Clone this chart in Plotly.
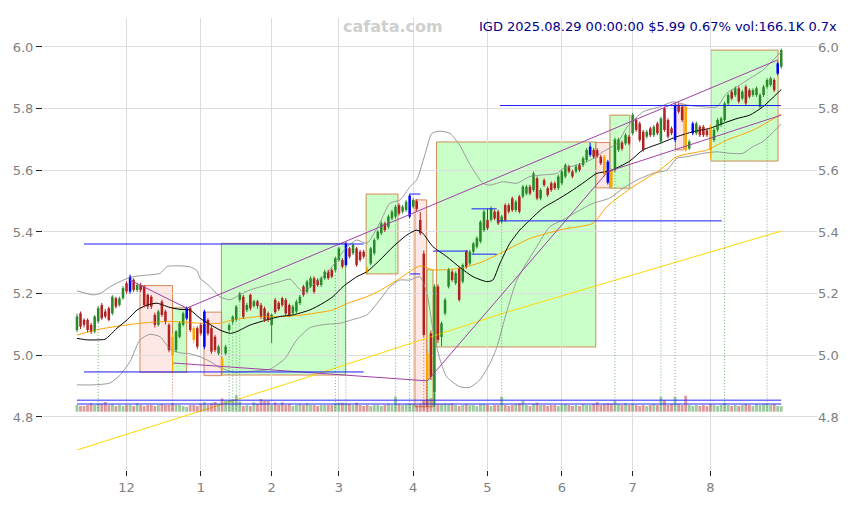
import plotly.graph_objects as go

# ---------------- data ----------------
opens = [
    5.082, 5.136, 5.115, 5.115, 5.099, 5.077, 5.110, 5.163, 5.142, 5.153,
    5.136, 5.185, 5.163, 5.185, 5.234, 5.207, 5.245, 5.212, 5.228, 5.223,
    5.196, 5.190, 5.131, 5.099, 5.174, 5.142, 5.099, 5.060, 5.017, 5.060,
    5.099, 5.120, 5.153, 5.088, 5.088, 5.099, 5.028, 5.115, 5.088, 5.060,
    5.006, 4.990, 5.006, 5.082, 5.109, 5.115, 5.180, 5.190, 5.147, 5.196,
    5.160, 5.175, 5.163, 5.152, 5.136, 5.098, 5.180, 5.170, 5.185, 5.180,
    5.163, 5.136, 5.142, 5.169, 5.223, 5.206, 5.223, 5.250, 5.244, 5.228,
    5.250, 5.271, 5.277, 5.277, 5.309, 5.309, 5.293, 5.347, 5.331, 5.347,
    5.336, 5.336, 5.282, 5.298, 5.331, 5.379, 5.396, 5.428, 5.417, 5.444,
    5.450, 5.487, 5.466, 5.471, 5.450, 5.482, 5.500, 5.439, 5.330, 5.006,
    5.071, 4.880, 5.223, 5.060, 5.136, 5.223, 5.271, 5.234, 5.282, 5.239,
    5.336, 5.298, 5.336, 5.352, 5.369, 5.406, 5.439, 5.439, 5.466, 5.466,
    5.434, 5.487, 5.487, 5.509, 5.471, 5.515, 5.515, 5.525, 5.547, 5.536,
    5.574, 5.509, 5.568, 5.542, 5.558, 5.558, 5.542, 5.558, 5.580, 5.612,
    5.596, 5.596, 5.617, 5.617, 5.633, 5.650, 5.666, 5.665, 5.644, 5.644,
    5.628, 5.601, 5.600, 5.666, 5.690, 5.687, 5.709, 5.720, 5.763, 5.752,
    5.725, 5.709, 5.736, 5.714, 5.752, 5.693, 5.801, 5.763, 5.736, 5.698,
    5.812, 5.806, 5.806, 5.671, 5.720, 5.720, 5.741, 5.741, 5.730, 5.741,
    5.698, 5.731, 5.747, 5.763, 5.817, 5.855, 5.844, 5.866, 5.833, 5.871,
    5.860, 5.844, 5.844, 5.806, 5.844, 5.871, 5.877, 5.893, 5.914, 5.936,
]
closes = [
    5.126, 5.093, 5.099, 5.082, 5.077, 5.126, 5.153, 5.120, 5.126, 5.115,
    5.190, 5.158, 5.185, 5.218, 5.207, 5.255, 5.212, 5.228, 5.212, 5.163,
    5.158, 5.158, 5.099, 5.142, 5.131, 5.110, 5.017, 5.000, 5.077, 5.104,
    5.136, 5.153, 5.082, 5.050, 5.028, 5.071, 5.142, 5.071, 5.012, 5.017,
    5.028, 4.963, 5.028, 5.098, 5.125, 5.158, 5.200, 5.125, 5.163, 5.152,
    5.175, 5.160, 5.125, 5.115, 5.115, 5.131, 5.140, 5.150, 5.163, 5.136,
    5.131, 5.158, 5.174, 5.190, 5.196, 5.239, 5.250, 5.206, 5.228, 5.250,
    5.271, 5.250, 5.255, 5.315, 5.347, 5.288, 5.363, 5.320, 5.358, 5.293,
    5.309, 5.320, 5.268, 5.347, 5.374, 5.401, 5.428, 5.406, 5.450, 5.466,
    5.482, 5.460, 5.482, 5.498, 5.518, 5.504, 5.475, 5.396, 5.066, 4.920,
    4.930, 5.223, 5.050, 5.104, 5.180, 5.277, 5.244, 5.266, 5.180, 5.293,
    5.287, 5.336, 5.363, 5.380, 5.433, 5.466, 5.412, 5.477, 5.444, 5.428,
    5.450, 5.439, 5.466, 5.471, 5.498, 5.466, 5.547, 5.547, 5.525, 5.590,
    5.509, 5.536, 5.552, 5.520, 5.536, 5.542, 5.580, 5.596, 5.617, 5.596,
    5.580, 5.612, 5.601, 5.639, 5.666, 5.677, 5.644, 5.646, 5.623, 5.585,
    5.560, 5.547, 5.700, 5.700, 5.670, 5.714, 5.687, 5.780, 5.731, 5.698,
    5.666, 5.725, 5.714, 5.741, 5.720, 5.768, 5.731, 5.709, 5.720, 5.812,
    5.790, 5.763, 5.666, 5.693, 5.752, 5.752, 5.714, 5.714, 5.714, 5.666,
    5.731, 5.763, 5.768, 5.817, 5.844, 5.833, 5.866, 5.823, 5.855, 5.817,
    5.839, 5.860, 5.866, 5.844, 5.871, 5.893, 5.898, 5.860, 5.947, 5.990,
]
highs = [
    5.135, 5.142, 5.120, 5.120, 5.105, 5.130, 5.160, 5.170, 5.150, 5.158,
    5.195, 5.190, 5.190, 5.225, 5.240, 5.262, 5.250, 5.235, 5.235, 5.228,
    5.200, 5.195, 5.138, 5.148, 5.180, 5.148, 5.104, 5.070, 5.082, 5.110,
    5.142, 5.158, 5.158, 5.094, 5.094, 5.104, 5.148, 5.120, 5.094, 5.066,
    5.034, 4.995, 5.034, 5.104, 5.130, 5.163, 5.206, 5.196, 5.170, 5.200,
    5.180, 5.180, 5.170, 5.158, 5.142, 5.136, 5.186, 5.176, 5.190, 5.186,
    5.168, 5.164, 5.180, 5.196, 5.228, 5.245, 5.256, 5.256, 5.250, 5.256,
    5.277, 5.277, 5.282, 5.320, 5.352, 5.315, 5.368, 5.352, 5.363, 5.352,
    5.342, 5.342, 5.288, 5.352, 5.380, 5.406, 5.434, 5.434, 5.456, 5.472,
    5.488, 5.493, 5.488, 5.504, 5.523, 5.510, 5.506, 5.465, 5.340, 5.020,
    5.080, 5.230, 5.230, 5.110, 5.186, 5.283, 5.277, 5.272, 5.288, 5.298,
    5.342, 5.342, 5.368, 5.386, 5.438, 5.472, 5.475, 5.483, 5.472, 5.472,
    5.456, 5.493, 5.493, 5.515, 5.504, 5.520, 5.553, 5.553, 5.553, 5.596,
    5.580, 5.542, 5.574, 5.548, 5.564, 5.564, 5.586, 5.602, 5.623, 5.618,
    5.602, 5.618, 5.623, 5.645, 5.672, 5.690, 5.672, 5.671, 5.650, 5.650,
    5.634, 5.607, 5.706, 5.706, 5.696, 5.720, 5.715, 5.786, 5.769, 5.758,
    5.731, 5.731, 5.742, 5.747, 5.758, 5.774, 5.807, 5.769, 5.742, 5.818,
    5.818, 5.812, 5.812, 5.699, 5.758, 5.758, 5.747, 5.747, 5.736, 5.747,
    5.737, 5.769, 5.774, 5.823, 5.850, 5.861, 5.872, 5.872, 5.861, 5.877,
    5.866, 5.866, 5.872, 5.850, 5.877, 5.899, 5.904, 5.899, 5.953, 5.995,
]
lows = [
    5.075, 5.085, 5.090, 5.075, 5.070, 5.072, 5.105, 5.115, 5.120, 5.110,
    5.130, 5.152, 5.158, 5.180, 5.200, 5.200, 5.205, 5.205, 5.205, 5.155,
    5.150, 5.150, 5.090, 5.094, 5.125, 5.100, 5.010, 4.944, 5.010, 5.055,
    5.094, 5.115, 5.075, 5.040, 5.020, 5.064, 5.020, 5.064, 5.005, 5.010,
    5.000, 4.940, 5.000, 5.075, 5.100, 5.110, 5.174, 5.118, 5.140, 5.145,
    5.155, 5.152, 5.118, 5.108, 5.108, 5.040, 5.134, 5.144, 5.157, 5.130,
    5.125, 5.130, 5.136, 5.163, 5.190, 5.200, 5.218, 5.200, 5.222, 5.222,
    5.245, 5.245, 5.250, 5.270, 5.303, 5.282, 5.288, 5.314, 5.325, 5.287,
    5.303, 5.314, 5.262, 5.292, 5.325, 5.373, 5.390, 5.400, 5.410, 5.438,
    5.444, 5.454, 5.460, 5.465, 5.445, 5.476, 5.468, 5.390, 5.060, 4.898,
    4.920, 4.833, 5.040, 5.030, 5.130, 5.217, 5.238, 5.228, 5.174, 5.233,
    5.281, 5.292, 5.330, 5.346, 5.363, 5.400, 5.406, 5.433, 5.438, 5.422,
    5.428, 5.433, 5.460, 5.465, 5.465, 5.460, 5.509, 5.519, 5.519, 5.530,
    5.503, 5.503, 5.546, 5.514, 5.530, 5.536, 5.536, 5.552, 5.574, 5.590,
    5.574, 5.590, 5.595, 5.611, 5.627, 5.644, 5.638, 5.640, 5.617, 5.579,
    5.554, 5.542, 5.594, 5.660, 5.664, 5.681, 5.681, 5.714, 5.725, 5.692,
    5.660, 5.703, 5.708, 5.708, 5.714, 5.687, 5.725, 5.703, 5.714, 5.692,
    5.784, 5.757, 5.660, 5.665, 5.714, 5.714, 5.708, 5.708, 5.708, 5.635,
    5.692, 5.725, 5.741, 5.757, 5.811, 5.827, 5.838, 5.817, 5.827, 5.811,
    5.833, 5.838, 5.838, 5.800, 5.838, 5.865, 5.871, 5.854, 5.908, 5.930,
]
volumes_k = [
    205, 175, 175, 205, 257, 205, 257, 236, 298, 205,
    236, 175, 205, 175, 205, 205, 175, 257, 205, 175,
    205, 205, 175, 205, 236, 205, 205, 257, 205, 205,
    175, 154, 205, 205, 175, 236, 298, 205, 257, 298,
    236, 411, 339, 359, 380, 513, 308, 175, 205, 175,
    287, 236, 390, 339, 339, 205, 287, 205, 287, 205,
    236, 175, 205, 236, 205, 257, 205, 205, 175, 205,
    205, 205, 205, 257, 277, 277, 257, 236, 205, 277,
    205, 175, 205, 175, 205, 205, 175, 205, 236, 205,
    462, 236, 205, 236, 257, 236, 205, 236, 359, 380,
    411, 565, 236, 236, 257, 236, 257, 205, 175, 205,
    236, 205, 205, 175, 236, 236, 205, 175, 205, 205,
    462, 205, 175, 205, 236, 257, 339, 205, 175, 236,
    277, 205, 205, 175, 205, 205, 175, 205, 236, 205,
    175, 205, 175, 236, 205, 205, 236, 298, 205, 236,
    257, 236, 329, 236, 205, 257, 205, 236, 205, 175,
    205, 175, 205, 236, 205, 462, 359, 205, 236, 462,
    236, 205, 493, 205, 175, 205, 175, 205, 175, 236,
    205, 175, 205, 277, 205, 175, 205, 175, 205, 236,
    205, 175, 236, 205, 236, 257, 205, 236, 175, 166,
]
blue_idx = [15, 31, 36, 76, 94, 145, 150, 169, 174, 198]
orange_idx = [27, 33, 41, 82, 99, 149, 151, 172, 179]
spike_idx = [6, 27, 43, 44, 45, 46, 73, 76, 90, 94, 98, 99, 120, 152, 165, 169, 183, 195]
vol_levels_k = [237, 355]

month_starts = [14, 35, 55, 74, 95, 116, 137, 157, 179]
month_labels = ["12", "1", "2", "3", "4", "5", "6", "7", "8"]
price_ticks = [4.8, 5.0, 5.2, 5.4, 5.6, 5.8, 6.0]

# Bollinger middle (20d MA), upper and lower bands, traced
mid_x = [0, 2.9, 5.7, 7.9, 9.4, 11.3, 14.2, 17, 19.8, 22.6, 24.3, 26.3, 29.1, 31.9, 34.8,
         37.6, 40.4, 43.3, 45.2, 48.9, 53.7, 57.4, 61, 65.8, 69.5, 72.3, 75.2, 79.1, 81.9,
         85.6, 89.3, 93.2, 96, 97.7, 100.6, 104.5, 108.2, 111.9, 115.8, 117.5, 119.5, 122.3,
         125.1, 128, 131.6, 135.6, 139.3, 142.9, 146.9, 150.6, 156.2, 159.9, 164.7, 169.5,
         174, 178.8, 182.5, 186.5, 190.1, 193.8, 199]
mid_y = [5.055, 5.05, 5.05, 5.052, 5.066, 5.088, 5.115, 5.147, 5.163, 5.169, 5.163, 5.155,
         5.149, 5.147, 5.12, 5.1, 5.082, 5.071, 5.077, 5.098, 5.115, 5.126, 5.131, 5.147,
         5.169, 5.19, 5.223, 5.255, 5.271, 5.309, 5.352, 5.39, 5.406, 5.396, 5.352, 5.32,
         5.285, 5.255, 5.239, 5.244, 5.298, 5.363, 5.406, 5.439, 5.477, 5.504, 5.53, 5.558,
         5.59, 5.598, 5.63, 5.666, 5.687, 5.709, 5.725, 5.736, 5.752, 5.768, 5.779, 5.806,
         5.862]
up_x = [0, 4.5, 6.5, 9.4, 12.2, 15, 17.8, 21.5, 23.5, 25.5, 29.1, 31.9, 33.9, 34.8, 37.6,
        40.4, 43.2, 46, 48.9, 53.7, 57.4, 60.2, 62.2, 63.8, 66.7, 70.6, 73.5, 76.3, 79.1,
        81.9, 85.6, 88.4, 91.3, 94.1, 96, 98.3, 100.3, 102.5, 105.4, 108.2, 111, 114.7,
        116.7, 120.4, 124.3, 128, 131.6, 135.6, 137.3, 141.3, 145, 148.6, 152.6, 155.4,
        160, 164.7, 168.4, 172.3, 176.9, 180.8, 183.6, 186.5, 190.1, 193.8, 199]
up_y = [5.209, 5.196, 5.2, 5.223, 5.239, 5.253, 5.258, 5.262, 5.266, 5.288, 5.29, 5.287,
        5.275, 5.25, 5.223, 5.19, 5.18, 5.196, 5.212, 5.228, 5.239, 5.247, 5.223, 5.206,
        5.228, 5.266, 5.309, 5.352, 5.374, 5.363, 5.43, 5.493, 5.504, 5.547, 5.569, 5.65,
        5.72, 5.727, 5.72, 5.68, 5.62, 5.558, 5.552, 5.563, 5.558, 5.58, 5.585, 5.59, 5.606,
        5.617, 5.633, 5.66, 5.687, 5.74, 5.79, 5.806, 5.822, 5.812, 5.806, 5.806, 5.85,
        5.871, 5.898, 5.925, 5.985]
lo_x = [0, 4.5, 9.3, 12.1, 15, 17.8, 20.6, 23.5, 26.3, 29.1, 31.9, 34.8, 37.6, 40.4, 44.7,
        48.9, 54.5, 58.8, 62.1, 65.9, 70.1, 74.3, 77.7, 81.9, 85.6, 88.4, 91.2, 94.1, 96.9,
        98.9, 100.6, 102.6, 104.5, 108.2, 111, 113.8, 116.7, 118.7, 120.9, 124.3, 129.9,
        133.6, 137.3, 142.1, 145.8, 150.6, 154.2, 158.2, 162.7, 166.7, 169.5, 172.3, 176.9,
        180.8, 184.5, 188.1, 191, 193.8, 199]
lo_y = [4.904, 4.904, 4.91, 4.935, 4.98, 5.05, 5.068, 5.06, 5.02, 5.008, 5.005, 4.995, 4.98,
        4.96, 4.945, 4.948, 4.955, 4.99, 5.05, 5.09, 5.1, 5.104, 5.115, 5.131, 5.18, 5.222,
        5.244, 5.244, 5.255, 5.2, 5.082, 4.985, 4.93, 4.898, 4.896, 4.92, 4.974, 5.028,
        5.12, 5.244, 5.352, 5.417, 5.439, 5.471, 5.493, 5.51, 5.541, 5.568, 5.59, 5.601,
        5.639, 5.644, 5.655, 5.66, 5.655, 5.655, 5.677, 5.693, 5.75]
# slower moving average (orange)
ma_x = [0, 6.5, 17.8, 26.3, 34.8, 40.4, 44.1, 51.7, 56.5, 63, 72.3, 76.3, 81.9, 85.6, 91.3,
        96.9, 100.6, 108.2, 113.8, 118.6, 128, 137.3, 145.8, 149.7, 156.2, 164.7, 169.5,
        178, 183.6, 191, 199]
ma_y = [5.066, 5.085, 5.104, 5.11, 5.104, 5.104, 5.115, 5.126, 5.125, 5.13, 5.147, 5.168,
        5.19, 5.21, 5.25, 5.29, 5.277, 5.282, 5.30, 5.325, 5.379, 5.409, 5.428, 5.482, 5.54,
        5.601, 5.644, 5.666, 5.698, 5.73, 5.782]
# long trend line (yellow)
trend_x = [0, 60, 120, 199]
trend_y = [4.693, 4.91, 5.135, 5.403]

# purple trend lines: start index, start price, end index, end price
tl_x0 = [15, 31, 27.2, 99, 150]
tl_y0 = [5.244, 5.153, 4.975, 4.917, 5.596]
tl_x1 = [31, 198, 99, 150, 199]
tl_y1 = [5.153, 5.958, 4.917, 5.596, 5.779]

# blue support / resistance segments
hl_x0 = [2, 2, 94, 94, 100.6, 111.5, 111.5, 119, 119.5]
hl_x1 = [81, 81, 97, 97, 110.5, 118.6, 118.6, 182.2, 198.9]
hl_p = [5.361, 4.946, 5.523, 5.264, 5.338, 5.328, 5.475, 5.436, 5.81]

# boxes
box_x0 = [17.8, 27, 35.9, 40.8, 81.7, 95.5, 98.9, 101.6, 146.6, 150.6, 169.1, 179.1]
box_x1 = [27, 31, 40.9, 75.9, 90.7, 98.8, 100.6, 146.6, 150.6, 156.2, 171.5, 198.1]
box_lo = [4.945, 4.945, 4.934, 4.936, 5.264, 4.833, 4.833, 5.027, 5.543, 5.542, 5.666, 5.63]
box_hi = [5.226, 5.154, 5.14, 5.363, 5.523, 5.504, 5.277, 5.692, 5.69, 5.779, 5.812, 5.99]
box_up = [False, True, False, True, True, False, True, True, False, True, False, True]

title_text = "IGD 2025.08.29 00:00:00 $5.99 0.67% vol:166.1K 0.7x"
watermark = "cafata.com"

# ---------------- styles ----------------
FONT = "DejaVu Sans"
C_UP, C_DN, C_BLUE, C_OR = "#2a8a2a", "#b22222", "#0000ff", "#ffa500"
VOL_UP, VOL_DN = "rgba(42,138,42,0.45)", "rgba(178,34,34,0.45)"
VOL_BASE_PRICE = 4.817

n = len(closes)
idx = list(range(n))

def cat(i):
    if i in blue_idx:
        return "blue"
    if i in orange_idx:
        return "orange"
    return "up" if closes[i] >= opens[i] else "down"

colors = {"up": C_UP, "down": C_DN, "blue": C_BLUE, "orange": C_OR}

fig = go.Figure()

# boxes
shapes = []
for x0, x1, lo, hi, up in zip(box_x0, box_x1, box_lo, box_hi, box_up):
    shapes.append(dict(type="rect", xref="x", yref="y", x0=x0, x1=x1, y0=lo, y1=hi,
                       fillcolor="rgba(150,255,150,0.5)" if up else "rgba(250,180,170,0.3)",
                       line=dict(color="rgba(205,120,60,0.85)", width=1), layer="below"))

# bands & moving averages
fig.add_trace(go.Scatter(x=trend_x, y=trend_y, mode="lines",
                         line=dict(color="#ffd700", width=1), hoverinfo="skip"))
fig.add_trace(go.Scatter(x=up_x, y=up_y, mode="lines",
                         line=dict(color="#9a9a9a", width=1, shape="spline", smoothing=0.6), hoverinfo="skip"))
fig.add_trace(go.Scatter(x=lo_x, y=lo_y, mode="lines",
                         line=dict(color="#9a9a9a", width=1, shape="spline", smoothing=0.6), hoverinfo="skip"))
fig.add_trace(go.Scatter(x=ma_x, y=ma_y, mode="lines",
                         line=dict(color="#ffa500", width=1, shape="spline", smoothing=0.6), hoverinfo="skip"))
fig.add_trace(go.Scatter(x=mid_x, y=mid_y, mode="lines",
                         line=dict(color="#000000", width=1, shape="spline", smoothing=0.6), hoverinfo="skip"))

# volume
vol_colors = [VOL_UP if closes[i] >= opens[i] else VOL_DN for i in idx]
fig.add_trace(go.Bar(x=idx, y=volumes_k, marker=dict(color=vol_colors, line=dict(width=0)),
                     width=0.8, yaxis="y3", hoverinfo="skip"))
for lvl in vol_levels_k:
    fig.add_trace(go.Scatter(x=[0, n - 1], y=[lvl, lvl], mode="lines", yaxis="y3",
                             line=dict(color="#2a2aff", width=1), hoverinfo="skip"))

# dotted spike lines
for c_name, col in (("up", "rgba(42,138,42,0.65)"), ("down", "rgba(178,34,34,0.65)")):
    xs, ys = [], []
    for i in spike_idx:
        is_up = closes[i] >= opens[i]
        if (c_name == "up") == is_up:
            xs += [i, i, None]
            ys += [lows[i], VOL_BASE_PRICE, None]
    fig.add_trace(go.Scatter(x=xs, y=ys, mode="lines",
                             line=dict(color=col, width=1, dash="1px,2px"), hoverinfo="skip"))

# candles
for c_name in ("up", "down", "blue", "orange"):
    sel = [i for i in idx if cat(i) == c_name]
    wx, wy = [], []
    for i in sel:
        wx += [i, i, None]
        wy += [lows[i], highs[i], None]
    fig.add_trace(go.Scatter(x=wx, y=wy, mode="lines",
                             line=dict(color=colors[c_name], width=1), hoverinfo="skip"))
    fig.add_trace(go.Bar(x=sel,
                         y=[max(abs(closes[i] - opens[i]), 0.003) for i in sel],
                         base=[min(opens[i], closes[i]) for i in sel],
                         width=0.72, marker=dict(color=colors[c_name], line=dict(width=0)),
                         hoverinfo="skip"))

# purple trend lines
px_, py_ = [], []
for a, b, c, d in zip(tl_x0, tl_y0, tl_x1, tl_y1):
    px_ += [a, c, None]
    py_ += [b, d, None]
fig.add_trace(go.Scatter(x=px_, y=py_, mode="lines",
                         line=dict(color="#a040a8", width=1), hoverinfo="skip"))

# blue horizontal segments
hx, hy = [], []
for a, b, p in zip(hl_x0, hl_x1, hl_p):
    hx += [a, b, None]
    hy += [p, p, None]
fig.add_trace(go.Scatter(x=hx, y=hy, mode="lines",
                         line=dict(color="#1a1aff", width=1), hoverinfo="skip"))

# invisible trace for right axis
fig.add_trace(go.Scatter(x=idx, y=closes, yaxis="y2", mode="lines",
                         line=dict(width=0), opacity=0, hoverinfo="skip"))

yr = [4.628, 6.094]
tickfont = dict(family=FONT, size=13, color="#808080")
fig.update_layout(
    width=858, height=505, autosize=False,
    margin=dict(l=35, r=49, t=10, b=43, autoexpand=False),
    paper_bgcolor="white", plot_bgcolor="white",
    showlegend=False, barmode="overlay",
    font=dict(family=FONT),
    shapes=shapes,
    xaxis=dict(range=[-9.6, 209.1], tickvals=month_starts, ticktext=month_labels,
               showgrid=True, gridcolor="#dddddd", gridwidth=1, zeroline=False, showline=False,
               ticks="outside", ticklen=5, tickcolor="#222222", tickfont=tickfont,
               automargin=False),
    yaxis=dict(range=yr, tickvals=price_ticks, tickformat=".1f", showgrid=True,
               gridcolor="#dddddd", gridwidth=1, zeroline=False, showline=False,
               ticks="outside", ticklen=6, tickcolor="#222222", tickfont=tickfont,
               automargin=False),
    yaxis2=dict(range=yr, overlaying="y", side="right", tickvals=price_ticks,
                tickformat=".1f", showgrid=False, zeroline=False, showline=False,
                ticks="", tickfont=tickfont, automargin=False),
    yaxis3=dict(range=[-1796, 12126], overlaying="y", visible=False, automargin=False),
    annotations=[
        dict(text=title_text, xref="paper", yref="paper", x=1.028, y=0.982,
             xanchor="right", yanchor="middle", showarrow=False,
             font=dict(family=FONT, size=13, color="#00008b")),
        dict(text="<b>" + watermark + "</b>", xref="paper", yref="paper", x=0.452, y=0.982,
             xanchor="center", yanchor="middle", showarrow=False,
             font=dict(family=FONT, size=16, color="#cfcfcf")),
    ],
)

fig.write_html("out.html")
